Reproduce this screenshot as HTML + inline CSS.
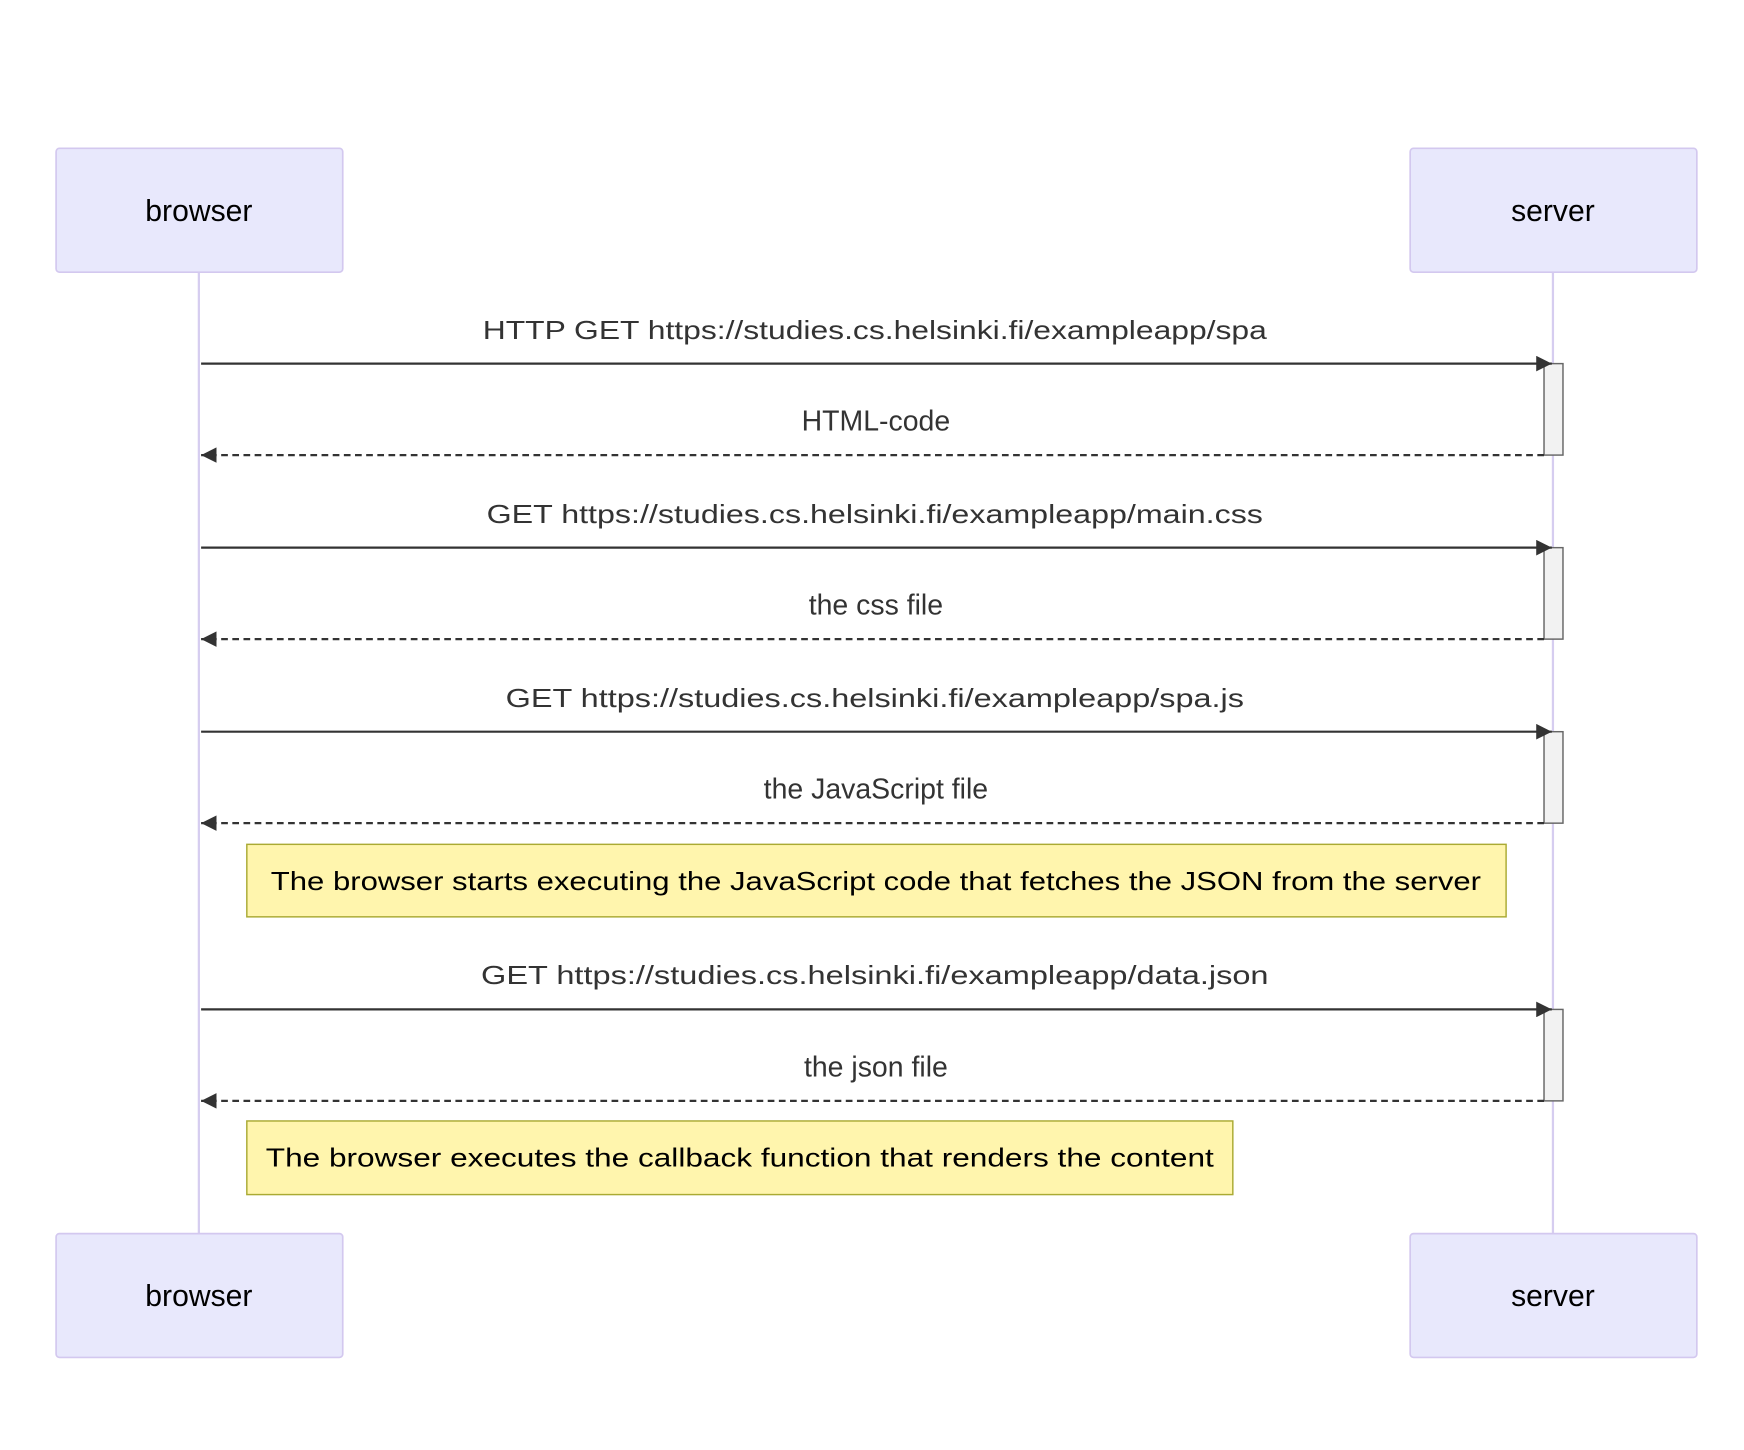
<!DOCTYPE html>
<html><head><style>html,body{margin:0;padding:0;background:#fff}svg{display:block}</style></head>
<body>
<svg width="1744" height="1450" viewBox="0 0 1563 1300" xmlns="http://www.w3.org/2000/svg" font-family="'Liberation Sans', 'DejaVu Sans', sans-serif">
<defs>
<marker id="a" viewBox="0 0 12 12" refX="12" refY="6" markerWidth="14" markerHeight="14" markerUnits="userSpaceOnUse" orient="auto"><path d="M0,0 L12,6 L0,12 z" fill="#333"/></marker>
</defs>
<rect width="1563" height="1300" fill="#fff"/>
<line x1="178" y1="244" x2="178" y2="1106" stroke="#d6cdf0" stroke-width="2"/>
<line x1="1392" y1="244" x2="1392" y2="1106" stroke="#d6cdf0" stroke-width="2"/>
<g fill="#e8e8fc" stroke="#d3c8ef" stroke-width="1.5">
<rect x="50" y="133" width="257" height="111" rx="3"/>
<rect x="1264" y="133" width="257" height="111" rx="3"/>
<rect x="50" y="1106" width="257" height="111" rx="3"/>
<rect x="1264" y="1106" width="257" height="111" rx="3"/>
</g>
<g font-size="27" fill="#000" text-anchor="middle">
<text x="178" y="198">browser</text>
<text x="1392" y="198">server</text>
<text x="178" y="1171">browser</text>
<text x="1392" y="1171">server</text>
</g>
<g fill="#f2f2f2" stroke="#666" stroke-width="1.3">
<rect x="1384" y="326" width="17" height="82"/>
<rect x="1384" y="491" width="17" height="82"/>
<rect x="1384" y="656" width="17" height="82"/>
<rect x="1384" y="905" width="17" height="82"/>
</g>
<g stroke="#333" stroke-width="2" fill="none">
<line x1="180" y1="326" x2="1391" y2="326" marker-end="url(#a)"/>
<line x1="1384" y1="408" x2="180" y2="408" stroke-dasharray="6,4" marker-end="url(#a)"/>
<line x1="180" y1="491" x2="1391" y2="491" marker-end="url(#a)"/>
<line x1="1384" y1="573" x2="180" y2="573" stroke-dasharray="6,4" marker-end="url(#a)"/>
<line x1="180" y1="656" x2="1391" y2="656" marker-end="url(#a)"/>
<line x1="1384" y1="738" x2="180" y2="738" stroke-dasharray="6,4" marker-end="url(#a)"/>
<line x1="180" y1="905" x2="1391" y2="905" marker-end="url(#a)"/>
<line x1="1384" y1="987" x2="180" y2="987" stroke-dasharray="6,4" marker-end="url(#a)"/>
</g>
<g font-size="23" fill="#333" text-anchor="middle">
<text x="784" y="304" textLength="703" lengthAdjust="spacingAndGlyphs">HTTP GET https://studies.cs.helsinki.fi/exampleapp/spa</text>
<text x="785" y="386" font-size="25.5">HTML-code</text>
<text x="784" y="469" textLength="696" lengthAdjust="spacingAndGlyphs">GET https://studies.cs.helsinki.fi/exampleapp/main.css</text>
<text x="785" y="551" font-size="25.5">the css file</text>
<text x="784" y="634" textLength="662" lengthAdjust="spacingAndGlyphs">GET https://studies.cs.helsinki.fi/exampleapp/spa.js</text>
<text x="785" y="716" font-size="25.5">the JavaScript file</text>
<text x="784" y="882" textLength="706" lengthAdjust="spacingAndGlyphs">GET https://studies.cs.helsinki.fi/exampleapp/data.json</text>
<text x="785" y="965" font-size="25.5">the json file</text>
</g>
<rect x="221" y="757" width="1129" height="65" fill="#fff5ad" stroke="#aaaa33" stroke-width="1.3"/>
<rect x="221" y="1005" width="884" height="66" fill="#fff5ad" stroke="#aaaa33" stroke-width="1.3"/>
<g font-size="23" fill="#000" text-anchor="middle">
<text x="785" y="798" textLength="1085" lengthAdjust="spacingAndGlyphs">The browser starts executing the JavaScript code that fetches the JSON from the server</text>
<text x="663" y="1046" textLength="850" lengthAdjust="spacingAndGlyphs">The browser executes the callback function that renders the content</text>
</g>
</svg>
</body></html>
